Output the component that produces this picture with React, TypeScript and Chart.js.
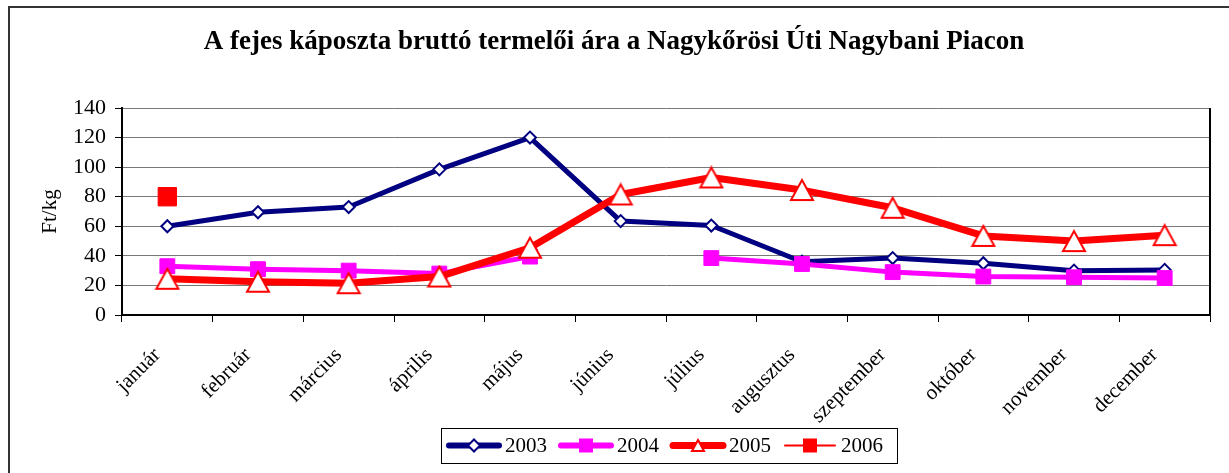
import React, { useEffect, useRef } from 'react';
import { Chart, registerables } from 'chart.js';

Chart.register(...registerables);

const chartTitle = 'A fejes káposzta bruttó termelői ára a Nagykőrösi Úti Nagybani Piacon';
const yAxisTitle = 'Ft/kg';
const months = ['január', 'február', 'március', 'április', 'május', 'június', 'július', 'augusztus', 'szeptember', 'október', 'november', 'december'];
const seriesLabels = ['2003', '2004', '2005', '2006'];
const values2003 = [60, 69.5, 73, 98.5, 120, 63.5, 60.5, 36, 38.5, 35, 30, 30.5];
const values2004 = [33, 31, 30, 28, 39.5, null, 38.5, 34.5, 29, 26, 25.5, 25];
const values2005 = [24.5, 22.5, 21.5, 26, 45.5, 81.5, 93, 84.5, 72.5, 53.5, 50, 54];
const values2006 = [80, null, null, null, null, null, null, null, null, null, null, null];
const yMin = 0;
const yMax = 140;
const yStep = 20;

const FONT = '"Liberation Serif", "Times New Roman", serif';
const NAVY = '#000080';
const MAGENTA = '#FF00FF';
const RED = '#FF0000';

function makeTriangle(w: number, h: number, lw: number): HTMLCanvasElement {
  const c = document.createElement('canvas');
  c.width = w + lw * 2;
  c.height = h + lw * 2;
  const g = c.getContext('2d')!;
  g.beginPath();
  g.moveTo(c.width / 2, lw);
  g.lineTo(c.width - lw, c.height - lw);
  g.lineTo(lw, c.height - lw);
  g.closePath();
  g.fillStyle = '#fff';
  g.fill();
  g.strokeStyle = RED;
  g.lineWidth = lw;
  g.lineJoin = 'miter';
  g.stroke();
  return c;
}

export default function App() {
  const ref = useRef<HTMLCanvasElement | null>(null);

  useEffect(() => {
    if (!ref.current) return;
    const triBig = makeTriangle(22, 20, 2);
    const triSmall = makeTriangle(12, 11, 2);

    const legendSpec = [
      { color: NAVY, lw: 6, marker: 'diamond' },
      { color: MAGENTA, lw: 6, marker: 'square' },
      { color: RED, lw: 7, marker: 'triangle' },
      { color: RED, lw: 2, marker: 'square' },
    ];

    const decor = {
      id: 'decor',
      afterDraw(chart: any) {
        const ctx = chart.ctx as CanvasRenderingContext2D;
        const a = chart.chartArea;
        ctx.save();
        // outer chart border (top/left visible)
        ctx.strokeStyle = '#333';
        ctx.lineWidth = 2;
        ctx.beginPath();
        ctx.moveTo(9, chart.height + 5);
        ctx.lineTo(9, 7);
        ctx.lineTo(chart.width + 5, 7);
        ctx.stroke();
        // plot right border
        ctx.strokeStyle = '#000';
        ctx.lineWidth = 2;
        ctx.beginPath();
        ctx.moveTo(a.right, a.top);
        ctx.lineTo(a.right, a.bottom);
        ctx.stroke();
        // title
        ctx.fillStyle = '#000';
        ctx.font = `bold 27px ${FONT}`;
        ctx.textAlign = 'center';
        ctx.textBaseline = 'middle';
        ctx.fillText(chartTitle, 614, 42);
        // legend
        ctx.lineWidth = 1;
        ctx.strokeStyle = '#000';
        ctx.strokeRect(441.5, 428.5, 456, 35);
        const cy = 445.5;
        ctx.font = `21px ${FONT}`;
        ctx.textAlign = 'left';
        let x = 446;
        seriesLabels.forEach((lab, i) => {
          const s = legendSpec[i];
          ctx.strokeStyle = s.color;
          ctx.lineWidth = s.lw;
          ctx.lineCap = 'round';
          ctx.beginPath();
          ctx.moveTo(x + 3, cy);
          ctx.lineTo(x + 53, cy);
          ctx.stroke();
          const mx = x + 28;
          if (s.marker === 'diamond') {
            ctx.beginPath();
            ctx.moveTo(mx, cy - 6);
            ctx.lineTo(mx + 6, cy);
            ctx.lineTo(mx, cy + 6);
            ctx.lineTo(mx - 6, cy);
            ctx.closePath();
            ctx.fillStyle = '#fff';
            ctx.fill();
            ctx.lineWidth = 2;
            ctx.strokeStyle = s.color;
            ctx.stroke();
          } else if (s.marker === 'square') {
            ctx.fillStyle = s.color;
            ctx.fillRect(mx - 7, cy - 7, 14, 14);
          } else {
            ctx.drawImage(triSmall, mx - triSmall.width / 2, cy - triSmall.height / 2);
          }
          ctx.fillStyle = '#000';
          ctx.textBaseline = 'middle';
          ctx.fillText(lab, x + 59, cy + 1);
          const tw = ctx.measureText(lab).width;
          x = x + 59 + tw + 11;
        });
        ctx.restore();
      },
    };

    const chart = new Chart(ref.current, {
      type: 'line',
      data: {
        labels: months,
        datasets: [
          {
            label: seriesLabels[0],
            data: values2003,
            borderColor: NAVY,
            backgroundColor: NAVY,
            borderWidth: 5,
            pointStyle: 'rectRot',
            pointRadius: 6,
            pointBackgroundColor: '#fff',
            pointBorderColor: NAVY,
            pointBorderWidth: 2,
            order: 4,
          },
          {
            label: seriesLabels[1],
            data: values2004,
            borderColor: MAGENTA,
            backgroundColor: MAGENTA,
            borderWidth: 5,
            pointStyle: 'rect',
            pointRadius: 10.5,
            pointBackgroundColor: MAGENTA,
            pointBorderColor: MAGENTA,
            pointBorderWidth: 1,
            order: 3,
          },
          {
            label: seriesLabels[2],
            data: values2005,
            borderColor: RED,
            backgroundColor: RED,
            borderWidth: 7,
            pointStyle: triBig as any,
            pointRadius: 12,
            order: 2,
          },
          {
            label: seriesLabels[3],
            data: values2006,
            borderColor: RED,
            backgroundColor: RED,
            borderWidth: 2,
            pointStyle: 'rect',
            pointRadius: 13,
            pointBackgroundColor: RED,
            pointBorderColor: RED,
            pointBorderWidth: 1,
            order: 1,
          },
        ],
      },
      options: {
        animation: false,
        responsive: false,
        events: [],
        elements: {
          line: { tension: 0, borderJoinStyle: 'round', borderCapStyle: 'round' },
        },
        layout: { padding: { left: 0, right: 19, top: 108, bottom: 0 } },
        plugins: {
          legend: { display: false },
          title: { display: false },
          tooltip: { enabled: false },
        },
        scales: {
          x: {
            type: 'category',
            offset: true,
            grid: {
              offset: true,
              drawOnChartArea: false,
              drawTicks: true,
              tickLength: 7,
              tickColor: '#000',
              tickWidth: 1,
            },
            border: { color: '#000', width: 2 },
            ticks: {
              font: { family: FONT, size: 21 },
              color: '#000',
              minRotation: 45,
              maxRotation: 45,
              autoSkip: false,
              padding: 21,
              labelOffset: -10,
            },
            afterFit(s: any) {
              s.height = 158;
            },
          },
          y: {
            min: yMin,
            max: yMax,
            ticks: {
              stepSize: yStep,
              font: { family: FONT, size: 22 },
              color: '#000',
              padding: 9,
            },
            grid: {
              color: '#787878',
              lineWidth: 1,
              tickColor: '#000',
              tickLength: 7,
            },
            border: { color: '#000', width: 2 },
            title: {
              display: true,
              text: yAxisTitle,
              font: { family: FONT, size: 21 },
              color: '#000',
              padding: { top: 38, bottom: 0 },
            },
            afterFit(s: any) {
              s.width = 122;
            },
          },
        },
      },
      plugins: [decor],
    } as any);

    return () => chart.destroy();
  }, []);

  return (
    <div style={{ position: 'fixed', left: 0, top: 0, width: 1229, height: 473, background: '#fff' }}>
      <canvas ref={ref} width={1229} height={473} style={{ display: 'block', width: 1229, height: 473 }} />
    </div>
  );
}
